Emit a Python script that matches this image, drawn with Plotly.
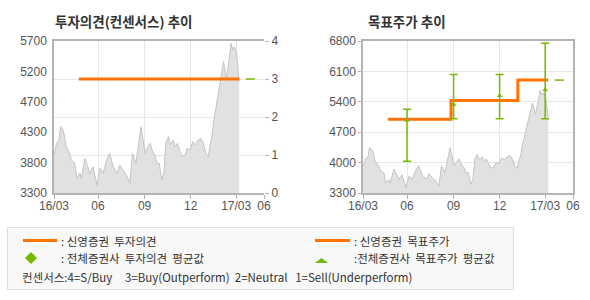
import plotly.graph_objects as go

# ---------------- data ----------------
price_dates = [
    "2016-03-06", "2016-03-07", "2016-03-11", "2016-03-16", "2016-03-19", "2016-03-24", "2016-03-27",
    "2016-03-30", "2016-04-06", "2016-04-09", "2016-04-16", "2016-04-20", "2016-04-26", "2016-04-29",
    "2016-05-06", "2016-05-12", "2016-05-16", "2016-05-22", "2016-05-26", "2016-05-30", "2016-06-05",
    "2016-06-11", "2016-06-18", "2016-06-24", "2016-07-01", "2016-07-09", "2016-07-14", "2016-07-21",
    "2016-07-29", "2016-08-03", "2016-08-08", "2016-08-15", "2016-08-19", "2016-08-25", "2016-08-29",
    "2016-09-02", "2016-09-06", "2016-09-12", "2016-09-17", "2016-09-21", "2016-09-26", "2016-09-30",
    "2016-10-05", "2016-10-09", "2016-10-13", "2016-10-18", "2016-10-22", "2016-10-28", "2016-10-31",
    "2016-11-05", "2016-11-10", "2016-11-15", "2016-11-20", "2016-11-24", "2016-11-30", "2016-12-05",
    "2016-12-10", "2016-12-16", "2016-12-21", "2016-12-26", "2016-12-31", "2017-01-05", "2017-01-08",
    "2017-01-12", "2017-01-15", "2017-01-18", "2017-01-23", "2017-01-27", "2017-01-31", "2017-02-04",
    "2017-02-07", "2017-02-10", "2017-02-14", "2017-02-17", "2017-02-19", "2017-02-22", "2017-02-25",
    "2017-03-02", "2017-03-05", "2017-03-07",
]
price = [
    3930, 3927, 4085, 4137, 4347, 4295, 4189,
    4031, 3927, 3821, 3769, 3532, 3611, 3532,
    3848, 3716, 3611, 3716, 3558, 3426, 3690,
    3611, 3821, 3927, 3716, 3611, 3740, 3660,
    3558, 3453, 3927, 3769, 3979, 4347, 4137,
    3927, 4005, 4084, 3953, 3900, 3769, 3769,
    3505, 3611, 4084, 4189, 4058, 4137, 4031,
    4084, 3953, 3874, 3900, 4005, 3979, 4110,
    4058, 4137, 4163, 4084, 3927, 3874, 4031,
    4189, 4400, 4558, 4795, 4953, 5190, 5374,
    5242, 5111, 5347, 5558, 5663, 5558, 5610,
    5505, 5190, 5058,
]

opinion_dates = ["2016-04-24", "2017-03-07"]
opinion = [3, 3]
cons_opinion_dates = ["2017-03-20", "2017-04-07"]
cons_opinion = [3, 3]

target_dates = ["2016-04-24", "2016-08-27", "2017-01-06", "2017-03-07"]
target = [5000, 5430, 5900, 5900]

avg_dates = ["2016-06-01", "2016-09-01", "2016-12-01", "2017-03-01"]
avg_target = [4970, 5338, 5539, 5677]
high_target = [5230, 6030, 6030, 6750]
low_target = [4030, 5010, 5010, 5010]
cons_target_dates = ["2017-03-20", "2017-04-07"]
cons_target = [5900, 5900]

x_tickvals = ["2016-03-06", "2016-06-01", "2016-09-01", "2016-12-01", "2017-03-01", "2017-04-25"]
x_ticktext = ["16/03", "06", "09", "12", "17/03", "06"]
left_price_tickvals = [3300, 3780, 4260, 4740, 5220, 5700]
left_price_ticktext = ["3300", "3800", "4300", "4700", "5200", "5700"]
opinion_ticks = [0, 1, 2, 3, 4]
right_price_ticks = [3300, 4000, 4700, 5400, 6100, 6800]

# ---------------- styles ----------------
ORANGE = "#ff7300"
GREEN = "#76b900"
GRID = "#e6e6e6"
FRAME = "#b4b4b4"
TICKFONT = dict(family="Liberation Sans, Arial", size=12, color="#555555")
W, H = 590, 300

def px(x):
    return x / W

def py(y):
    return 1 - y / H

fig = go.Figure()

# left chart
fig.add_trace(go.Scatter(x=price_dates, y=price, mode="lines", fill="tozeroy",
                         line=dict(color="#c4c4c4", width=1), fillcolor="#e1e1e1",
                         xaxis="x", yaxis="y", hoverinfo="skip"))
fig.add_trace(go.Scatter(x=opinion_dates, y=opinion, mode="lines",
                         line=dict(color=ORANGE, width=3), xaxis="x", yaxis="y2"))
fig.add_trace(go.Scatter(x=cons_opinion_dates, y=cons_opinion, mode="lines",
                         line=dict(color=GREEN, width=1.5), xaxis="x", yaxis="y2"))

# right chart
fig.add_trace(go.Scatter(x=price_dates, y=price, mode="lines", fill="tozeroy",
                         line=dict(color="#c4c4c4", width=1), fillcolor="#e1e1e1",
                         xaxis="x2", yaxis="y3", hoverinfo="skip"))
fig.add_trace(go.Scatter(x=target_dates, y=target, mode="lines", line_shape="hv",
                         line=dict(color=ORANGE, width=3), xaxis="x2", yaxis="y3"))
fig.add_trace(go.Scatter(
    x=avg_dates, y=avg_target, mode="markers",
    marker=dict(symbol="triangle-up", size=5, color=GREEN),
    error_y=dict(type="data", symmetric=False,
                 array=[h - a for h, a in zip(high_target, avg_target)],
                 arrayminus=[a - l for a, l in zip(avg_target, low_target)],
                 color=GREEN, thickness=1.5, width=4),
    xaxis="x2", yaxis="y3"))
fig.add_trace(go.Scatter(x=cons_target_dates, y=cons_target, mode="lines",
                         line=dict(color=GREEN, width=1.5), xaxis="x2", yaxis="y3"))

xcommon = dict(type="date", range=[x_tickvals[0], x_tickvals[-1]], tickvals=x_tickvals,
               ticktext=x_ticktext, showgrid=True, gridcolor=GRID, gridwidth=1,
               showline=True, linecolor=FRAME, linewidth=1.5, mirror=True,
               ticks="outside", ticklen=4, tickcolor=FRAME, tickfont=TICKFONT,
               ticklabelstandoff=-3, zeroline=False, automargin=False)

fig.update_layout(
    width=W, height=H, margin=dict(l=0, r=0, t=0, b=0, pad=0, autoexpand=False),
    paper_bgcolor="white", plot_bgcolor="white", showlegend=False,
    xaxis=dict(domain=[px(54), px(264)], anchor="y", **xcommon),
    yaxis=dict(domain=[py(193), py(41)], anchor="x", range=[3300, 5700],
               tickvals=left_price_tickvals, ticktext=left_price_ticktext,
               showgrid=False, showline=True, linecolor=FRAME, linewidth=1.5,
               ticks="outside", ticklen=3, tickcolor="rgba(0,0,0,0)", tickfont=TICKFONT,
               zeroline=False, automargin=False),
    yaxis2=dict(overlaying="y", side="right", anchor="x", range=[0, 4], tickvals=opinion_ticks,
                showgrid=True, gridcolor=GRID, gridwidth=1, showline=False,
                ticks="outside", ticklen=4, tickcolor=FRAME, tickfont=TICKFONT,
                zeroline=False, automargin=False),
    xaxis2=dict(domain=[px(363), px(573)], anchor="y3", **xcommon),
    yaxis3=dict(domain=[py(193), py(41)], anchor="x2", range=[3300, 6800],
                tickvals=right_price_ticks, showgrid=True, gridcolor=GRID, gridwidth=1,
                showline=True, linecolor=FRAME, linewidth=1.5, mirror=True,
                ticks="outside", ticklen=3, tickcolor=FRAME, tickfont=TICKFONT,
                zeroline=False, automargin=False),
)

# titles
TITLEFONT = dict(family="Noto Sans CJK KR", size=13.5, color="#333333")
fig.add_annotation(text="<b>투자의견(컨센서스) 추이</b>", xref="paper", yref="paper",
                   x=px(53), y=py(21), xanchor="left", yanchor="middle",
                   showarrow=False, font=TITLEFONT)
fig.add_annotation(text="<b>목표주가 추이</b>", xref="paper", yref="paper",
                   x=px(366), y=py(21), xanchor="left", yanchor="middle",
                   showarrow=False, font=TITLEFONT)

# legend box
fig.add_shape(type="rect", xref="paper", yref="paper", x0=px(7.5), x1=px(513.5),
              y0=py(289.5), y1=py(227.5), fillcolor="#f8f8f8",
              line=dict(color="#dcdcdc", width=1), layer="below")
fig.add_shape(type="line", xref="paper", yref="paper", x0=px(23), x1=px(57),
              y0=py(240.5), y1=py(240.5), line=dict(color=ORANGE, width=3))
fig.add_shape(type="line", xref="paper", yref="paper", x0=px(315), x1=px(350),
              y0=py(240.5), y1=py(240.5), line=dict(color=ORANGE, width=3))
fig.add_shape(type="path", xref="paper", yref="paper",
              path=f"M {px(25)},{py(258)} L {px(31)},{py(252)} L {px(37)},{py(258)} L {px(31)},{py(264)} Z",
              fillcolor=GREEN, line=dict(width=0))
fig.add_shape(type="path", xref="paper", yref="paper",
              path=f"M {px(315)},{py(263)} L {px(321.5)},{py(258)} L {px(328)},{py(263)} Z",
              fillcolor=GREEN, line=dict(width=0))

LEGFONT = dict(family="Noto Sans CJK KR", size=11.5, color="#333333")
legend_items = [
    (59, 240.5, ": 신영증권  투자의견"),
    (352, 240.5, ": 신영증권  목표주가"),
    (59, 258, ": 전체증권사  투자의견  평균값"),
    (352, 258, ":전체증권사  목표주가  평균값"),
    (20, 277, "컨센서스:4=S/Buy&nbsp;&nbsp;&nbsp;&nbsp;&nbsp;3=Buy(Outperform)&nbsp;&nbsp;2=Neutral&nbsp;&nbsp;&nbsp;1=Sell(Underperform)"),
]
for x, y, t in legend_items:
    fig.add_annotation(text=t, xref="paper", yref="paper", x=px(x), y=py(y),
                       xanchor="left", yanchor="middle", showarrow=False, font=LEGFONT)

fig.write_html("out.html")
